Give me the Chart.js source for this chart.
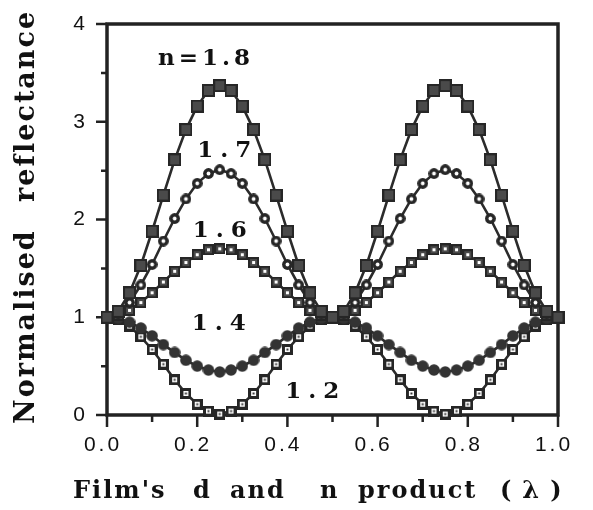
<!DOCTYPE html>
<html>
<head>
<meta charset="utf-8">
<script src="https://cdn.jsdelivr.net/npm/chart.js@4/dist/chart.umd.min.js"></script>
<style>
  html, body { margin: 0; padding: 0; background: #fff; }
  #wrap { width: 593px; height: 510px; }
</style>
</head>
<body>
<div id="wrap"><canvas id="c" width="593" height="510"></canvas></div>
<script>
// Film thickness (nd, in wavelengths)
const thickness = [0.000,0.025,0.050,0.075,0.100,0.125,0.150,0.175,0.200,0.225,0.250,
                   0.275,0.300,0.325,0.350,0.375,0.400,0.425,0.450,0.475,0.500,
                   0.525,0.550,0.575,0.600,0.625,0.650,0.675,0.700,0.725,0.750,
                   0.775,0.800,0.825,0.850,0.875,0.900,0.925,0.950,0.975,1.000];

// Normalised reflectance for each film index
const n18 = [1.00,1.06,1.25,1.53,1.88,2.25,2.61,2.92,3.16,3.32,3.37,3.32,3.16,2.92,2.61,2.25,1.88,1.53,1.25,1.06,
             1.00,1.06,1.25,1.53,1.88,2.25,2.61,2.92,3.16,3.32,3.37,3.32,3.16,2.92,2.61,2.25,1.88,1.53,1.25,1.06,1.00];
const n17 = [1.00,1.04,1.15,1.33,1.54,1.78,2.01,2.21,2.37,2.47,2.51,2.47,2.37,2.21,2.01,1.78,1.54,1.33,1.15,1.04,
             1.00,1.04,1.15,1.33,1.54,1.78,2.01,2.21,2.37,2.47,2.51,2.47,2.37,2.21,2.01,1.78,1.54,1.33,1.15,1.04,1.00];
const n16 = [1.00,1.02,1.07,1.15,1.25,1.36,1.47,1.56,1.64,1.69,1.70,1.69,1.64,1.56,1.47,1.36,1.25,1.15,1.07,1.02,
             1.00,1.02,1.07,1.15,1.25,1.36,1.47,1.56,1.64,1.69,1.70,1.69,1.64,1.56,1.47,1.36,1.25,1.15,1.07,1.02,1.00];
const n14 = [1.00,0.99,0.95,0.89,0.81,0.72,0.64,0.56,0.50,0.46,0.44,0.46,0.50,0.56,0.64,0.72,0.81,0.89,0.95,0.99,
             1.00,0.99,0.95,0.89,0.81,0.72,0.64,0.56,0.50,0.46,0.44,0.46,0.50,0.56,0.64,0.72,0.81,0.89,0.95,0.99,1.00];
const n12 = [1.00,0.98,0.91,0.80,0.67,0.52,0.36,0.22,0.11,0.04,0.01,0.04,0.11,0.22,0.36,0.52,0.67,0.80,0.91,0.98,
             1.00,0.98,0.91,0.80,0.67,0.52,0.36,0.22,0.11,0.04,0.01,0.04,0.11,0.22,0.36,0.52,0.67,0.80,0.91,0.98,1.00];

// Axis ticks
const xTicks = [0,0.1,0.2,0.3,0.4,0.5,0.6,0.7,0.8,0.9,1.0];
const xTickLabels = ['0.0','','0.2','','0.4','','0.6','','0.8','','1.0'];
const yTicks = [0,0.5,1,1.5,2,2.5,3,3.5,4];
const yTickLabels = ['0','','1','','2','','3','','4'];

// Curve captions, anchored in data units
const captionText = ['n=1.8','1.7','1.6','1.4','1.2'];
const captionX = [0.113,0.200,0.190,0.188,0.395];
const captionY = [3.58,2.64,1.82,0.87,0.17];

const INK = '#2b2b2b';

function marker(size, paint) {
  const c = document.createElement('canvas');
  c.width = size; c.height = size;
  paint(c.getContext('2d'), size);
  return c;
}
const mkFilledSquare = marker(13, (g, s) => {
  g.fillStyle = '#262626'; g.fillRect(0, 0, s, s);
  g.fillStyle = '#4a4a4a'; g.fillRect(2, 2, s - 4, s - 4);
});
const mkRing = marker(11, (g, s) => {
  g.fillStyle = '#262626'; g.beginPath(); g.arc(5.5, 5.5, 5.4, 0, Math.PI * 2); g.fill();
  g.fillStyle = '#fff'; g.beginPath(); g.arc(5.5, 5.5, 1.9, 0, Math.PI * 2); g.fill();
});
const mkDotSquare = marker(11, (g, s) => {
  g.fillStyle = '#262626'; g.fillRect(0, 0, s, s);
  g.fillStyle = '#4a4a4a'; g.fillRect(2, 2, s - 4, s - 4);
  g.fillStyle = '#fff'; g.fillRect(4, 4, 3, 3);
});
const mkDisc = marker(12, (g, s) => {
  g.fillStyle = '#333'; g.beginPath(); g.arc(6, 6, 5.8, 0, Math.PI * 2); g.fill();
});
const mkOpenSquare = marker(11, (g, s) => {
  g.fillStyle = '#262626'; g.fillRect(0, 0, s, s);
  g.fillStyle = '#fff'; g.fillRect(3, 3, s - 6, s - 6);
  g.fillStyle = '#333'; g.fillRect(4.5, 4.5, 2, 2);
});

function series(values, style, order) {
  return {
    data: thickness.map((x, i) => ({ x: x, y: values[i] })),
    borderColor: INK,
    borderWidth: 2.6,
    pointStyle: style,
    pointRadius: 6,
    pointHoverRadius: 6,
    tension: 0,
    clip: false,
    order: order
  };
}

const frameAndTicks = {
  id: 'frameAndTicks',
  beforeDraw(chart) {
    chart.ctx.letterSpacing = '3px';
  },
  beforeDatasetsDraw(chart) {
    const ctx = chart.ctx;
    ctx.letterSpacing = '0px';
    const a = chart.chartArea, xs = chart.scales.x, ys = chart.scales.y;
    ctx.save();
    ctx.strokeStyle = '#222';
    ctx.lineWidth = 3.5;
    ctx.beginPath();
    ctx.rect(a.left, a.top, a.right - a.left, a.bottom - a.top);
    ctx.stroke();
    ctx.lineWidth = 2.5;
    ctx.beginPath();
    xTicks.forEach((v, i) => {
      const px = xs.getPixelForValue(v);
      const len = (i % 2 === 0) ? 12 : 7;
      ctx.moveTo(px, a.bottom);
      ctx.lineTo(px, a.bottom + len);
    });
    yTicks.forEach((v, i) => {
      const py = ys.getPixelForValue(v);
      const len = (i % 2 === 0) ? 11 : 6;
      ctx.moveTo(a.left, py);
      ctx.lineTo(a.left - len, py);
    });
    ctx.stroke();
    ctx.restore();
  },
  afterDraw(chart) {
    const ctx = chart.ctx, xs = chart.scales.x, ys = chart.scales.y;
    ctx.save();
    ctx.fillStyle = '#111';
    ctx.textBaseline = 'alphabetic';
    ctx.textAlign = 'left';

    // curve captions
    ctx.font = 'bold 23px "DejaVu Serif"';
    captionText.forEach((t, i) => {
      ctx.letterSpacing = i === 0 ? '4px' : '7px';
      ctx.fillText(t, xs.getPixelForValue(captionX[i]), ys.getPixelForValue(captionY[i]));
    });

    // x axis title
    ctx.font = 'bold 24px "DejaVu Serif"';
    ctx.letterSpacing = '2px';
    const words = [['Film\'s', 73], ['d', 193], ['and', 230], ['n', 320], ['product', 358], ['(λ)', 500]];
    words.forEach(([w, x]) => {
      if (w === '(λ)') ctx.letterSpacing = '11px';
      ctx.fillText(w, x, 498);
    });

    // y axis title
    ctx.letterSpacing = '2px';
    ctx.font = 'bold 27px "DejaVu Serif"';
    ctx.translate(34, 0);
    ctx.rotate(-Math.PI / 2);
    ctx.fillText('Normalised', -424, 0);
    ctx.fillText('reflectance', -202, 0);
    ctx.restore();
  }
};

new Chart(document.getElementById('c'), {
  type: 'line',
  data: {
    datasets: [
      series(n18, mkFilledSquare, 1),
      series(n17, mkRing, 2),
      series(n16, mkDotSquare, 3),
      series(n14, mkDisc, 4),
      series(n12, mkOpenSquare, 5)
    ]
  },
  options: {
    responsive: false,
    animation: false,
    devicePixelRatio: 1,
    layout: { padding: { left: 0, top: 24, right: 35, bottom: 0 } },
    plugins: { legend: { display: false }, tooltip: { enabled: false } },
    scales: {
      x: {
        type: 'linear',
        min: 0, max: 1,
        afterBuildTicks(s) { s.ticks = xTicks.map(v => ({ value: v })); },
        afterFit(s) { s.height = 95; },
        grid: { display: false },
        border: { display: false },
        ticks: {
          autoSkip: false,
          maxRotation: 0,
          padding: 10,
          labelOffset: -4,
          color: '#111',
          font: { family: 'Liberation Sans', size: 21 },
          callback: (v, i) => xTickLabels[i]
        }
      },
      y: {
        type: 'linear',
        min: 0, max: 4,
        afterBuildTicks(s) { s.ticks = yTicks.map(v => ({ value: v })); },
        afterFit(s) { s.width = 107; },
        grid: { display: false },
        border: { display: false },
        ticks: {
          autoSkip: false,
          padding: 11,
          color: '#111',
          font: { family: 'Liberation Sans', size: 21 },
          callback: (v, i) => yTickLabels[i]
        }
      }
    }
  },
  plugins: [frameAndTicks]
});
</script>
</body>
</html>
